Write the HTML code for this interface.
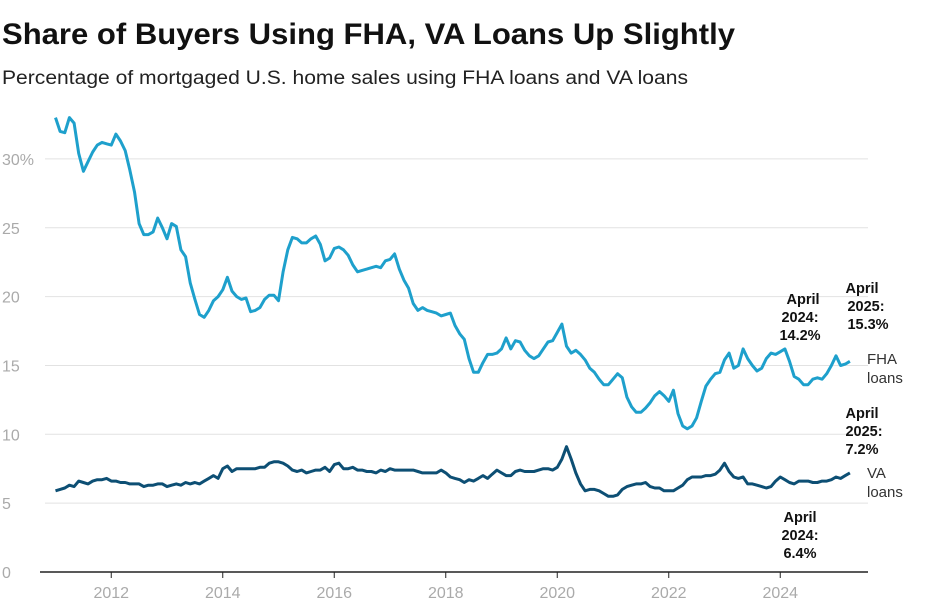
<!DOCTYPE html>
<html><head><meta charset="utf-8"><style>
body{margin:0;background:#fff;font-family:"Liberation Sans",sans-serif;}
svg text{font-family:"Liberation Sans",sans-serif;}
</style></head><body>
<svg width="943" height="606">
<text x="2" y="44" font-size="30" font-weight="bold" fill="#111" textLength="733" lengthAdjust="spacingAndGlyphs">Share of Buyers Using FHA, VA Loans Up Slightly</text>
<text x="2" y="84" font-size="19" fill="#222" textLength="686" lengthAdjust="spacingAndGlyphs">Percentage of mortgaged U.S. home sales using FHA loans and VA loans</text>
<g id="grid"></g><g id="xaxis"></g><g id="lines"></g>
<g font-size="14.5" font-weight="bold" fill="#111" text-anchor="middle">
<text x="803" y="304"><tspan x="803">April</tspan><tspan x="800" dy="18">2024:</tspan><tspan x="800" dy="18">14.2%</tspan></text>
<text x="868" y="293"><tspan x="862">April</tspan><tspan x="866" dy="18">2025:</tspan><tspan x="868" dy="18">15.3%</tspan></text>
<text x="862" y="418"><tspan x="862">April</tspan><tspan x="864" dy="18">2025:</tspan><tspan x="862" dy="18">7.2%</tspan></text>
<text x="800" y="522"><tspan x="800">April</tspan><tspan x="800" dy="18">2024:</tspan><tspan x="800" dy="18">6.4%</tspan></text>
</g>
<g font-size="15" fill="#333">
<text x="867" y="364"><tspan x="867">FHA</tspan><tspan x="867" dy="19">loans</tspan></text>
<text x="867" y="478"><tspan x="867">VA</tspan><tspan x="867" dy="19">loans</tspan></text>
</g>
</svg>
<script>
const yTicks=[0,5,10,15,20,25,30];
const yTickLabels=["0","5","10","15","20","25","30%"];
const xTicks=[2012,2014,2016,2018,2020,2022,2024];
const startYear=2011;
const fha=[33.0,32.0,31.9,33.0,32.6,30.4,29.1,29.8,30.5,31.0,31.2,31.1,
31.0,31.8,31.3,30.6,29.2,27.6,25.3,24.5,24.5,24.7,25.7,25.0,
24.2,25.3,25.1,23.4,22.9,21.0,19.8,18.7,18.5,19.0,19.7,20.0,
20.5,21.4,20.4,20.0,19.8,19.9,18.9,19.0,19.2,19.8,20.1,20.1,
19.7,21.8,23.4,24.3,24.2,23.9,23.9,24.2,24.4,23.8,22.6,22.8,
23.5,23.6,23.4,23.0,22.3,21.8,21.9,22.0,22.1,22.2,22.1,22.6,
22.7,23.1,22.0,21.2,20.6,19.5,19.0,19.2,19.0,18.9,18.8,18.6,
18.7,18.8,17.9,17.3,16.9,15.5,14.5,14.5,15.2,15.8,15.8,15.9,
16.2,17.0,16.2,16.8,16.7,16.1,15.7,15.5,15.7,16.2,16.7,16.8,
17.4,18.0,16.4,15.9,16.1,15.8,15.4,14.8,14.5,14.0,13.6,13.6,
14.0,14.4,14.1,12.7,12.0,11.6,11.6,11.9,12.3,12.8,13.1,12.8,
12.4,13.2,11.5,10.6,10.4,10.6,11.2,12.4,13.5,14.0,14.4,14.5,
15.4,15.9,14.8,15.0,16.2,15.5,15.0,14.6,14.8,15.5,15.9,15.8,
16.0,16.2,15.3,14.2,14.0,13.6,13.6,14.0,14.1,14.0,14.4,15.0,
15.7,15.0,15.1,15.3];
const va=[5.9,6.0,6.1,6.3,6.2,6.6,6.5,6.4,6.6,6.7,6.7,6.8,
6.6,6.6,6.5,6.5,6.4,6.4,6.4,6.2,6.3,6.3,6.4,6.4,
6.2,6.3,6.4,6.3,6.5,6.4,6.5,6.4,6.6,6.8,7.0,6.8,
7.5,7.7,7.3,7.5,7.5,7.5,7.5,7.5,7.6,7.6,7.9,8.0,
8.0,7.9,7.7,7.4,7.3,7.4,7.2,7.3,7.4,7.4,7.6,7.3,
7.8,7.9,7.5,7.5,7.6,7.4,7.4,7.3,7.3,7.2,7.4,7.3,
7.5,7.4,7.4,7.4,7.4,7.4,7.3,7.2,7.2,7.2,7.2,7.4,
7.2,6.9,6.8,6.7,6.5,6.7,6.6,6.8,7.0,6.8,7.1,7.4,
7.2,7.0,7.0,7.3,7.4,7.3,7.3,7.3,7.4,7.5,7.5,7.4,
7.6,8.2,9.1,8.2,7.2,6.4,5.9,6.0,6.0,5.9,5.7,5.5,
5.5,5.6,6.0,6.2,6.3,6.4,6.4,6.5,6.2,6.1,6.1,5.9,
5.9,5.9,6.1,6.3,6.7,6.9,6.9,6.9,7.0,7.0,7.1,7.4,
7.9,7.3,6.9,6.8,6.9,6.4,6.4,6.3,6.2,6.1,6.2,6.6,
6.9,6.7,6.5,6.4,6.6,6.6,6.6,6.5,6.5,6.6,6.6,6.7,
6.9,6.8,7.0,7.2];
const NS="http://www.w3.org/2000/svg";
const y=v=>572-v*13.77;
const x=t=>55.5+(t-startYear)*55.75;
const xm=i=>x(startYear+i/12);
const grid=document.getElementById('grid');
yTicks.forEach((t,i)=>{
const l=document.createElementNS(NS,'line');
l.setAttribute('x1',t===0?40:45);l.setAttribute('x2',868);
l.setAttribute('y1',y(t));l.setAttribute('y2',y(t));
l.setAttribute('stroke',t===0?'#222':'#e2e2e2');l.setAttribute('stroke-width',t===0?1.5:1);


grid.appendChild(l);
const tx=document.createElementNS(NS,'text');
tx.setAttribute('x',2);tx.setAttribute('y',y(t)+6);
tx.setAttribute('font-size','16');tx.setAttribute('fill','#aaa');
tx.textContent=yTickLabels[i];


grid.appendChild(tx);
});
const xa=document.getElementById('xaxis');
xTicks.forEach(t=>{
const tx=document.createElementNS(NS,'text');
tx.setAttribute('x',x(t));tx.setAttribute('y',598);
tx.setAttribute('font-size','16');tx.setAttribute('fill','#aaa');tx.setAttribute('text-anchor','middle');
tx.textContent=t;


xa.appendChild(tx);
const tk=document.createElementNS(NS,'line');
tk.setAttribute('x1',x(t));tk.setAttribute('x2',x(t));tk.setAttribute('y1',572);tk.setAttribute('y2',578);
tk.setAttribute('stroke','#222');


xa.appendChild(tk);
});
const lines=document.getElementById('lines');
function draw(arr,color,name){
const p=document.createElementNS(NS,'path');
p.setAttribute('d',arr.map((v,i)=>(i?'L':'M')+xm(i).toFixed(1)+','+y(v).toFixed(1)).join(''));
p.setAttribute('fill','none');p.setAttribute('stroke',color);p.setAttribute('stroke-width','3');
p.setAttribute('stroke-linejoin','round');


lines.appendChild(p);
}
draw(fha,'#1ea0cc','fha-line');
draw(va,'#0d4f74','va-line');
</script>
</body></html>
